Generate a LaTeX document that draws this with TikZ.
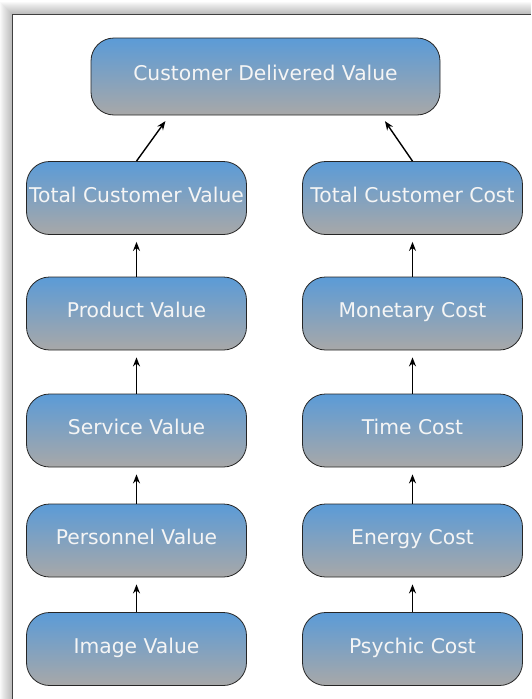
\documentclass[tikz,border=0pt]{standalone}
\usepackage{fontspec}
\setmainfont{DejaVu Sans}
\usetikzlibrary{arrows.meta}
\definecolor{boxtop}{RGB}{91,155,215}
\definecolor{boxbottom}{RGB}{168,168,168}
\definecolor{boxtext}{RGB}{245,245,245}

\begin{document}
\begin{tikzpicture}[x=1pt, y=-1pt,
        valuebox/.style={draw=black!85, line width=0.8pt, rounded corners=23pt,
            top color=boxtop, bottom color=boxbottom, text=boxtext,
            minimum width=220pt, minimum height=73pt, inner sep=0pt,
            text height=0.95em, text depth=0.12em,
            font=\fontsize{20.3}{24}\selectfont},
        link/.style={-{Stealth[length=9pt,width=7pt]}, line width=1.4pt, shorten >=7pt}]
        \useasboundingbox (0,0) rectangle (531,699);
        % frame and its shadow
        \foreach \i in {1,...,12}
            \fill[black, opacity=0.025] (12-\i,14-\i) rectangle (531,699);
        \fill[white] (12,14) rectangle (531,699);
        \draw[black!75, line width=0.9pt] (531,14) -- (12,14) -- (12,699);
        % boxes
        \node[valuebox, minimum width=349pt, minimum height=77pt] (cdv) at (265.5, 76.5) {Customer Delivered Value};
        \node[valuebox] (tcv) at (136.5, 198) {Total Customer Value};
        \node[valuebox] (prod) at (136.5, 313.5) {Product Value};
        \node[valuebox] (serv) at (136.5, 430.5) {Service Value};
        \node[valuebox] (pers) at (136.5, 540.5) {Personnel Value};
        \node[valuebox] (img) at (136.5, 649) {Image Value};
        \node[valuebox] (tcc) at (412.5, 198) {Total Customer Cost};
        \node[valuebox] (money) at (412.5, 313.5) {Monetary Cost};
        \node[valuebox] (timec) at (412.5, 430.5) {Time Cost};
        \node[valuebox] (energy) at (412.5, 540.5) {Energy Cost};
        \node[valuebox] (psych) at (412.5, 649) {Psychic Cost};
        % arrows
        \foreach \a/\b in {img/pers, pers/serv, serv/prod, prod/tcv, psych/energy, energy/timec, timec/money, money/tcc}
            \draw[link] (\a.north) -- (\b.south);
        \draw[link] (tcv.north) -- ([xshift=-96pt]cdv.south);
        \draw[link] (tcc.north) -- ([xshift=115.5pt]cdv.south);
    \end{tikzpicture}
\end{document}
